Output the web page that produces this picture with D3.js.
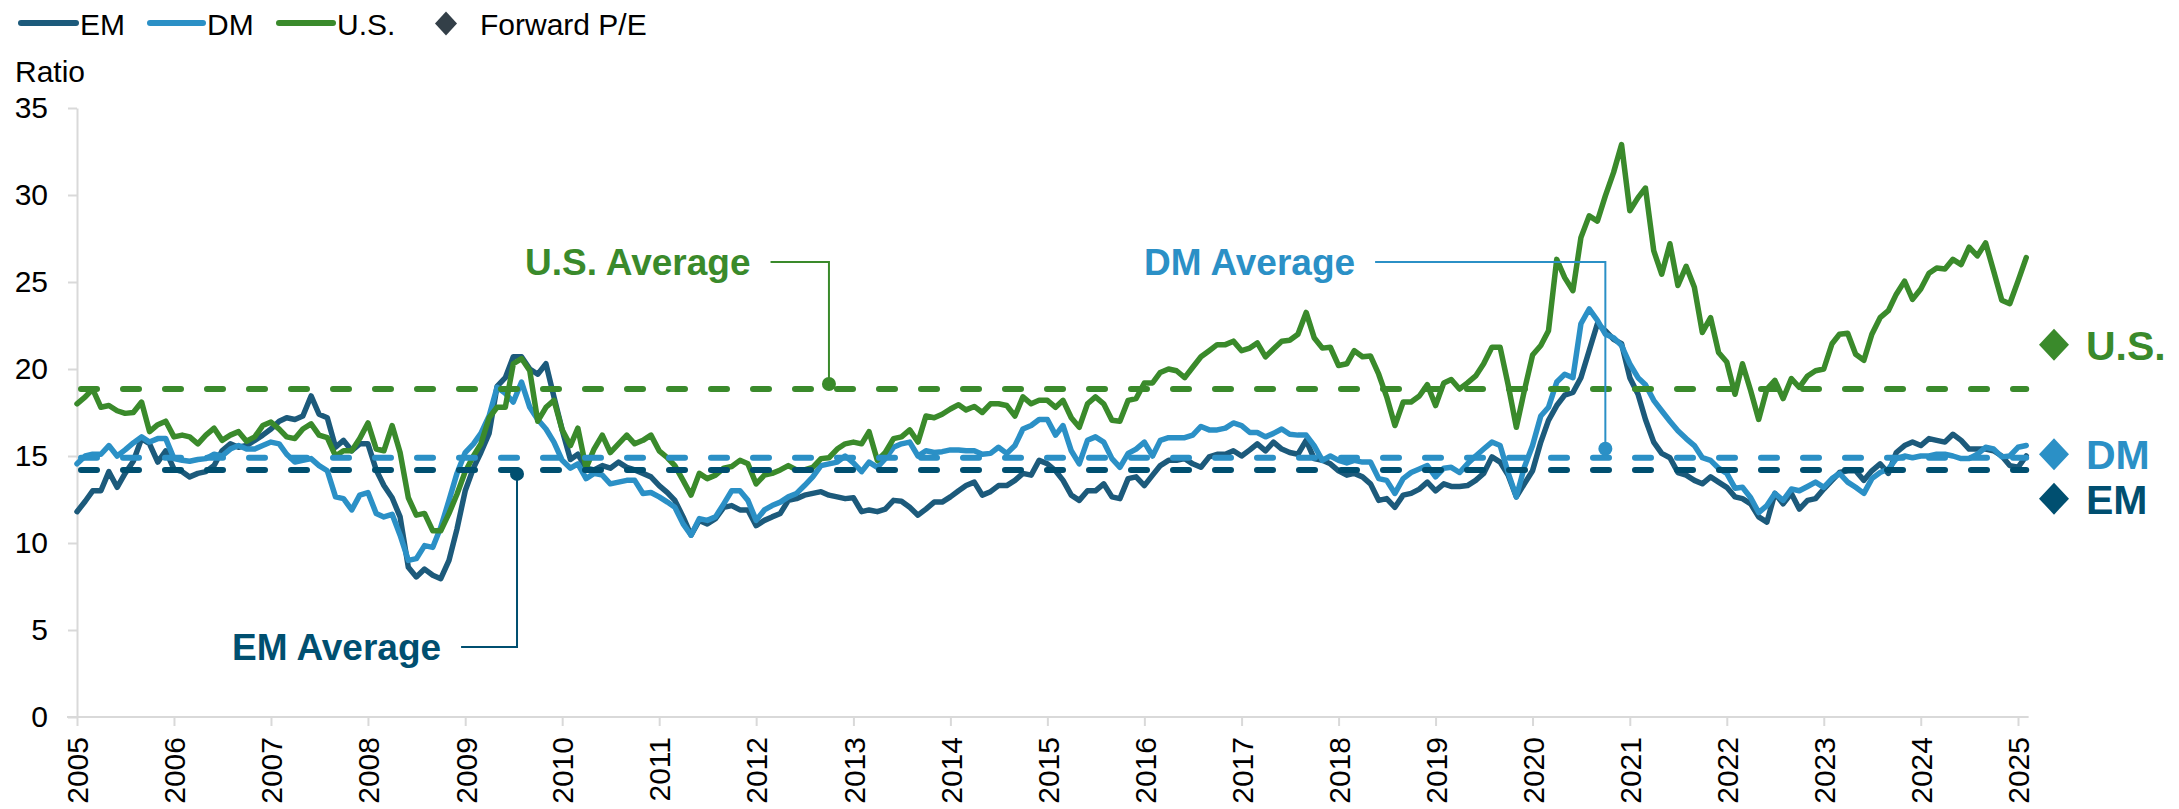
<!DOCTYPE html>
<html><head><meta charset="utf-8">
<script src="https://cdn.jsdelivr.net/npm/d3@7"></script>
<style>
body{margin:0;background:#fff}
svg{display:block}
text{font-family:"Liberation Sans",Arial,Helvetica,sans-serif}
</style>
</head><body>
<svg id="chart" width="2179" height="809"></svg>
<script>
// ---------------- DATA (monthly, starting Jan 2005) ----------------
const startYear = 2005;
const seriesNames = ["EM", "DM", "U.S."];

const emValues = [
  11.8,12.4,13.0,13.0,14.1,13.2,14.0,14.7,16.0,15.7,14.65,15.3,
  14.25,14.1,13.8,14.0,14.1,14.45,15.3,15.7,15.5,15.6,15.9,16.2,
  16.55,17.0,17.2,17.1,17.3,18.45,17.4,17.2,15.5,15.9,15.3,15.7,
  15.7,14.2,13.3,12.6,11.5,8.6,8.05,8.5,8.15,7.95,9.0,10.8,
  13.0,14.3,15.2,16.3,19.0,19.5,20.7,20.7,20.0,19.7,20.3,18.4,
  16.5,14.8,15.1,14.3,14.2,14.45,14.3,14.65,14.35,14.2,14.0,13.8,
  13.3,12.9,12.45,11.5,10.45,11.3,11.1,11.4,12.05,12.15,11.9,11.9,
  11.0,11.3,11.5,11.7,12.45,12.55,12.75,12.85,12.95,12.75,12.65,12.55,
  12.6,11.8,11.9,11.8,11.95,12.45,12.4,12.05,11.6,11.95,12.35,12.35,
  12.65,13.0,13.3,13.5,12.75,12.95,13.3,13.3,13.6,14.0,13.9,14.75,
  14.55,14.15,13.6,12.75,12.45,13.0,13.0,13.4,12.65,12.55,13.7,13.8,
  13.3,13.9,14.45,14.75,14.75,14.85,14.55,14.35,14.95,15.1,15.1,15.3,
  15.0,15.35,15.7,15.3,15.8,15.4,15.2,15.1,15.9,14.85,14.75,14.55,
  14.15,13.9,14.0,13.8,13.4,12.45,12.55,12.05,12.75,12.85,13.1,13.5,
  13.0,13.4,13.25,13.25,13.3,13.6,14.0,14.95,14.65,13.9,12.65,13.4,
  14.15,15.8,17.05,17.9,18.5,18.65,19.5,21.05,22.6,22.2,21.7,21.45,
  19.5,18.55,17.1,15.8,15.15,14.9,14.05,13.9,13.6,13.4,13.8,13.5,
  13.2,12.65,12.55,12.25,11.5,11.2,12.85,12.25,12.85,11.95,12.45,12.55,
  13.1,13.6,14.05,14.15,14.15,13.6,14.15,14.55,14.0,15.2,15.6,15.8,
  15.6,16.0,15.9,15.8,16.25,15.9,15.4,15.4,15.4,15.3,15.0,14.45,
  14.35,15.0
];

const dmValues = [
  14.55,15.0,15.1,15.1,15.6,15.0,15.35,15.75,16.1,15.8,16.0,16.0,
  14.85,14.75,14.7,14.8,14.85,15.1,15.0,15.4,15.6,15.4,15.4,15.6,
  15.8,15.7,15.1,14.65,14.75,14.85,14.45,14.15,12.65,12.55,11.9,12.75,
  12.9,11.7,11.5,11.65,10.45,9.0,9.1,9.85,9.75,10.9,12.45,14.0,
  15.2,15.7,16.3,17.3,18.95,18.6,18.1,19.25,17.8,17.1,16.55,15.8,
  14.75,14.3,14.55,13.7,14.0,13.9,13.4,13.5,13.6,13.6,12.85,12.9,
  12.65,12.35,12.05,11.1,10.45,11.4,11.3,11.5,12.25,13.0,13.0,12.45,
  11.3,11.9,12.15,12.35,12.65,12.85,13.3,13.8,14.45,14.55,14.65,15.0,
  14.6,14.1,14.65,14.35,14.85,15.5,15.7,15.8,15.0,15.3,15.2,15.25,
  15.35,15.35,15.3,15.3,15.1,15.15,15.5,15.15,15.6,16.55,16.75,17.1,
  17.1,16.2,16.75,15.3,14.55,15.9,16.1,15.8,14.85,14.35,15.15,15.4,
  15.8,15.0,15.9,16.05,16.05,16.05,16.2,16.7,16.5,16.5,16.6,16.9,
  16.75,16.35,16.35,16.1,16.3,16.55,16.25,16.2,16.2,15.6,14.75,15.0,
  14.75,14.6,14.75,14.65,14.65,13.7,13.6,12.85,13.7,14.05,14.25,14.45,
  13.8,14.3,14.35,14.05,14.55,15.0,15.4,15.8,15.6,14.05,12.65,14.35,
  15.6,17.3,17.8,19.25,19.7,19.5,22.6,23.45,22.8,22.0,21.8,21.35,
  20.3,19.5,19.1,18.2,17.6,17.0,16.45,16.0,15.6,14.9,14.75,14.3,
  14.0,13.15,13.2,12.6,11.75,12.15,12.85,12.45,13.1,13.0,13.25,13.5,
  13.2,13.7,14.0,13.5,13.2,12.85,13.7,14.05,14.25,14.85,15.0,14.9,
  15.0,15.0,15.1,15.1,15.0,14.85,14.85,15.1,15.5,15.4,14.95,15.0,
  15.5,15.6
];

const usValues = [
  18.0,18.4,18.85,17.8,17.9,17.6,17.45,17.5,18.1,16.4,16.8,17.0,
  16.1,16.2,16.1,15.7,16.2,16.6,15.9,16.2,16.4,15.85,16.1,16.75,
  16.95,16.55,16.1,16.0,16.55,16.85,16.2,16.05,15.0,15.3,15.3,16.0,
  16.9,15.4,15.3,16.75,15.2,12.6,11.6,11.7,10.7,10.7,11.7,12.8,
  14.1,15.0,15.7,17.2,17.8,17.8,20.3,20.6,19.9,17.0,17.8,18.2,
  16.5,15.6,16.6,14.3,15.4,16.2,15.2,15.7,16.2,15.7,15.9,16.2,
  15.3,14.9,14.45,13.6,12.75,14.0,13.7,13.9,14.3,14.4,14.75,14.55,
  13.4,13.9,14.0,14.2,14.45,14.2,14.2,14.35,14.85,14.9,15.4,15.7,
  15.8,15.7,16.4,14.75,15.2,16.0,16.1,16.5,15.8,17.3,17.2,17.4,
  17.7,17.95,17.65,17.85,17.5,18.0,18.0,17.9,17.3,18.4,18.0,18.2,
  18.2,17.8,18.2,17.2,16.65,18.0,18.4,18.0,17.05,17.0,18.2,18.3,
  19.2,19.2,19.8,20.0,19.9,19.5,20.1,20.7,21.05,21.4,21.4,21.6,
  21.05,21.2,21.5,20.7,21.15,21.6,21.65,22.0,23.25,21.8,21.2,21.25,
  20.2,20.3,21.05,20.7,20.75,19.7,18.4,16.75,18.1,18.1,18.45,19.1,
  17.9,19.2,19.4,18.85,19.2,19.6,20.3,21.25,21.25,19.1,16.65,18.75,
  20.8,21.35,22.2,26.3,25.25,24.5,27.55,28.8,28.5,29.95,31.3,32.9,
  29.1,29.85,30.4,26.8,25.45,27.2,24.8,25.9,24.7,22.1,22.95,20.95,
  20.4,18.55,20.3,18.75,17.1,18.85,19.35,18.3,19.45,18.95,19.6,19.9,
  20.0,21.45,22.0,22.05,20.85,20.5,22.0,22.95,23.35,24.3,25.05,24.0,
  24.6,25.5,25.8,25.75,26.3,26.0,27.0,26.5,27.25,25.65,23.95,23.75,
  25.05,26.4
];

// long-run averages (dashed lines)
const averageNames  = ["EM", "DM", "U.S."];
const averageValues = [14.2, 14.9, 18.85];

// current forward P/E diamonds on the right
const forwardNames  = ["U.S.", "DM", "EM"];
const forwardValues = [21.4, 15.1, 12.55];

const yTickValues = [0, 5, 10, 15, 20, 25, 30, 35];
const xTickYears  = d3.range(2005, 2026);

// ---------------- STYLE ----------------
const colors = {
  "EM":   {line: "#1c5a7b", dark: "#004f70"},
  "DM":   {line: "#2b90c6", dark: "#2b90c6"},
  "U.S.": {line: "#3a8a2b", dark: "#3a8a2b"}
};
const axisGrey = "#d9d9d9";

// ---------------- SCALES ----------------
const svg = d3.select("#chart");
const x = d3.scaleTime()
  .domain([new Date(2005, 0, 1), new Date(2025, 0, 1)])
  .range([77, 2018]);
const y = d3.scaleLinear().domain([0, 35]).range([717, 108]);
const dateOf = i => new Date(startYear, i, 1);

// ---------------- AXES ----------------
const yAxis = svg.append("g")
  .attr("transform", "translate(77,0)")
  .call(d3.axisLeft(y).tickValues(yTickValues).tickSize(9).tickSizeOuter(0).tickPadding(20));
yAxis.select(".domain").attr("stroke", axisGrey).attr("stroke-width", 2);
yAxis.selectAll(".tick line").attr("stroke", axisGrey).attr("stroke-width", 2);
yAxis.selectAll(".tick text").attr("font-size", 30).attr("fill", "#000")
  .style("font-family", '"Liberation Sans",Arial,sans-serif');

const xAxis = svg.append("g")
  .attr("transform", "translate(0,717)")
  .call(d3.axisBottom(x)
    .tickValues(xTickYears.map(yr => new Date(yr, 0, 1)))
    .tickFormat(d3.timeFormat("%Y"))
    .tickSize(9).tickSizeOuter(0));
xAxis.select(".domain").remove();
xAxis.selectAll(".tick line").attr("stroke", axisGrey).attr("stroke-width", 2);
xAxis.selectAll(".tick text")
  .attr("font-size", 30).attr("fill", "#000")
  .style("font-family", '"Liberation Sans",Arial,sans-serif')
  .attr("x", 0).attr("y", 0).attr("dy", "0.36em")
  .attr("text-anchor", "end")
  .attr("transform", "translate(0,20) rotate(-90)");
svg.append("line")
  .attr("x1", 67).attr("x2", x(new Date(2025, 1, 10)))
  .attr("y1", y(0)).attr("y2", y(0))
  .attr("stroke", axisGrey).attr("stroke-width", 2);

svg.append("text").text("Ratio")
  .attr("x", 15).attr("y", 82).attr("font-size", 30).attr("fill", "#000");

// ---------------- SERIES ----------------
const line = d3.line().x((d, i) => x(dateOf(i))).y(d => y(d));
const seriesData = [emValues, dmValues, usValues];
seriesNames.forEach((name, k) => {
  svg.append("path")
    .datum(seriesData[k])
    .attr("d", line)
    .attr("fill", "none")
    .attr("stroke", colors[name].line)
    .attr("stroke-width", 5.5)
    .attr("stroke-linejoin", "round")
    .attr("stroke-linecap", "round");
});

// ---------------- AVERAGE LINES ----------------
const avgStart = new Date(2005, 0, 1), avgEnd = new Date(2025, 1, 1);
averageNames.forEach((name, k) => {
  svg.append("line")
    .attr("x1", x(avgStart) + 4).attr("x2", x(avgEnd))
    .attr("y1", y(averageValues[k])).attr("y2", y(averageValues[k]))
    .attr("stroke", colors[name].dark)
    .attr("stroke-width", 6)
    .attr("stroke-linecap", "round")
    .attr("stroke-dasharray", "16 26");
});

// ---------------- CALLOUTS ----------------
function callout(name, label, textX, textY, anchorDate, elbowY, dotDy) {
  const c = colors[name].dark;
  const k = averageNames.indexOf(name);
  const ax = x(anchorDate), ay = y(averageValues[k]) + dotDy;
  const t = svg.append("text").text(label)
    .attr("x", textX).attr("y", textY)
    .attr("font-size", 37).attr("font-weight", "bold").attr("fill", c);
  const w = t.node().getComputedTextLength();
  svg.append("path")
    .attr("d", `M${textX + w + 20},${elbowY}H${ax}V${ay}`)
    .attr("fill", "none").attr("stroke", c).attr("stroke-width", 2);
  svg.append("circle").attr("cx", ax).attr("cy", ay).attr("r", 7).attr("fill", c);
}
callout("U.S.", "U.S. Average", 525, 275, new Date(2012, 9, 1), 262, -5);
callout("DM", "DM Average", 1144, 275, new Date(2020, 9, 1), 262, -9);
callout("EM", "EM Average", 232, 660, new Date(2009, 6, 15), 647, 4);

// ---------------- RIGHT-SIDE FORWARD P/E ----------------
function diamond(cx, cy, hw, hh) {
  return `M${cx},${cy - hh}L${cx + hw},${cy}L${cx},${cy + hh}L${cx - hw},${cy}Z`;
}
forwardNames.forEach((name, k) => {
  const cy = y(forwardValues[k]);
  svg.append("path").attr("d", diamond(2054, cy, 15, 16)).attr("fill", colors[name].dark);
  svg.append("text").text(name)
    .attr("x", 2086).attr("y", cy + 15)
    .attr("font-size", 41).attr("font-weight", "bold").attr("fill", colors[name].dark);
});

// ---------------- LEGEND ----------------
const legend = svg.append("g");
const legendItems = [
  {name: "EM", x1: 21, x2: 76, tx: 80},
  {name: "DM", x1: 150, x2: 203, tx: 207},
  {name: "U.S.", x1: 279, x2: 333, tx: 337}
];
legendItems.forEach(it => {
  legend.append("line").attr("x1", it.x1).attr("x2", it.x2).attr("y1", 23).attr("y2", 23)
    .attr("stroke", colors[it.name].line).attr("stroke-width", 6).attr("stroke-linecap", "round");
  legend.append("text").text(it.name).attr("x", it.tx).attr("y", 35)
    .attr("font-size", 30).attr("fill", "#000");
});
legend.append("path").attr("d", diamond(446, 23.5, 11, 12)).attr("fill", "#333f48");
legend.append("text").text("Forward P/E").attr("x", 480).attr("y", 35)
  .attr("font-size", 30).attr("fill", "#000");
</script>
</body></html>
